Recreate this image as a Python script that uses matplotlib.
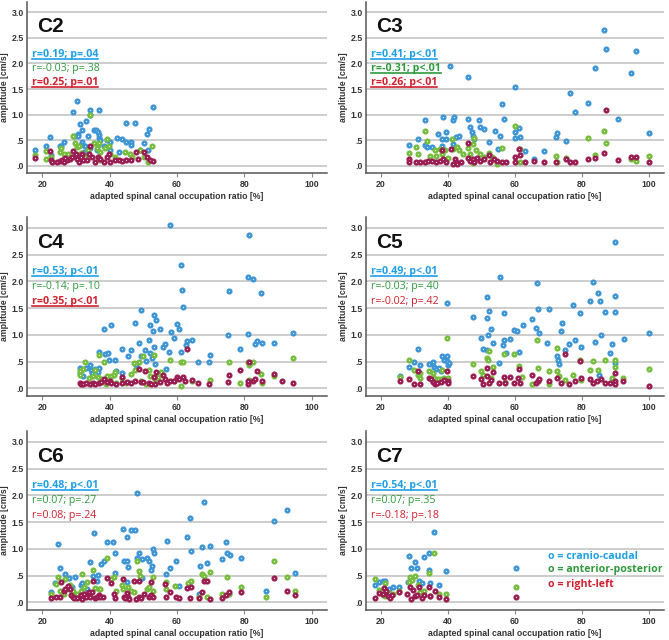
import matplotlib
matplotlib.use("Agg")
import matplotlib.pyplot as plt
from matplotlib.lines import Line2D

# ---------------- data ----------------
panels = ["C2", "C3", "C4", "C5", "C6", "C7"]
x_ticks = [20, 40, 60, 80, 100]
y_ticks = [0.0, 0.5, 1.0, 1.5, 2.0, 2.5, 3.0]
y_tick_labels = [".0", ".5", "1.0", "1.5", "2.0", "2.5", "3.0"]
series_names = ["cranio-caudal", "anterior-posterior", "right-left"]

# C2
c2_cc_x = [18.0, 21.2, 22.2, 22.5, 25.2, 26.4, 25.7, 29.2, 30.2, 29.4, 30.6, 30.6, 31.2, 31.9, 31.9, 33.1, 33.5, 34.3, 34.3, 35.5, 36.1, 36.5, 36.8, 36.9, 37.0, 37.3, 36.5, 36.3, 34.3, 32.8, 31.6, 38.3, 39.1, 40.2, 40.2, 42.2, 42.9, 43.7, 44.9, 44.9, 46.4, 46.5, 47.5, 48.9, 50.3, 51.1, 51.8, 51.4, 52.9, 32.3]
c2_cc_y = [0.31, 0.39, 0.57, 0.21, 0.39, 0.47, 0.39, 1.06, 1.27, 0.58, 0.63, 0.58, 0.81, 0.70, 0.47, 0.88, 0.58, 1.10, 0.99, 0.70, 0.70, 0.66, 1.10, 0.60, 0.55, 0.50, 0.40, 0.31, 0.34, 0.39, 0.40, 0.39, 0.50, 0.47, 0.31, 0.55, 0.27, 0.53, 0.83, 0.47, 0.47, 0.40, 0.84, 0.31, 0.44, 0.62, 0.72, 0.31, 1.14, 0.27]
c2_ap_x = [18.0, 21.2, 21.2, 22.5, 25.2, 25.7, 26.4, 27.7, 29.2, 29.6, 30.2, 30.9, 31.4, 32.8, 34.3, 33.5, 35.5, 36.8, 36.3, 37.1, 38.5, 39.3, 39.8, 40.2, 41.7, 44.7, 46.2, 46.7, 49.1, 50.3, 51.4, 52.6, 37.3, 32.3]
c2_ap_y = [0.21, 0.29, 0.14, 0.18, 0.27, 0.34, 0.24, 0.24, 0.58, 0.44, 0.37, 0.38, 0.25, 0.18, 1.00, 0.31, 0.45, 0.44, 0.34, 0.27, 0.34, 0.52, 0.39, 0.24, 0.18, 0.27, 0.24, 0.18, 0.31, 0.18, 0.08, 0.39, 0.11, 0.11]
c2_rl_x = [18.0, 22.2, 22.5, 23.0, 24.4, 25.2, 25.9, 26.4, 27.4, 28.4, 29.2, 29.9, 30.2, 30.9, 31.9, 32.1, 33.3, 33.8, 34.1, 34.8, 35.8, 36.5, 37.3, 38.3, 39.1, 39.8, 40.2, 41.7, 42.7, 43.7, 44.9, 46.4, 47.7, 48.4, 50.3, 51.2, 51.9, 52.8, 28.9, 31.4, 26.9]
c2_rl_y = [0.16, 0.29, 0.12, 0.08, 0.08, 0.10, 0.11, 0.08, 0.11, 0.14, 0.29, 0.23, 0.14, 0.08, 0.23, 0.11, 0.12, 0.23, 0.38, 0.18, 0.08, 0.18, 0.14, 0.08, 0.18, 0.24, 0.08, 0.11, 0.12, 0.10, 0.12, 0.12, 0.27, 0.14, 0.27, 0.18, 0.12, 0.10, 0.18, 0.18, 0.16]

# C3
c3_cc_x = [28.2, 31.0, 33.0, 33.0, 33.7, 35.3, 37.0, 38.3, 38.5, 38.3, 39.5, 39.5, 40.6, 41.4, 41.9, 41.6, 42.4, 43.4, 45.9, 46.1, 46.6, 47.1, 47.4, 47.8, 49.1, 49.4, 50.6, 52.1, 54.1, 55.6, 56.1, 56.6, 54.8, 60.1, 60.1, 60.1, 61.1, 61.4, 63.1, 68.6, 65.6, 72.1, 72.4, 75.1, 76.4, 77.8, 81.9, 83.9, 86.5, 87.2, 90.7, 94.5, 96.0, 99.9]
c3_cc_y = [0.41, 0.53, 0.89, 0.41, 0.36, 0.36, 0.62, 0.53, 0.95, 0.39, 0.53, 0.67, 1.95, 0.89, 0.96, 0.43, 0.56, 0.59, 1.73, 0.92, 0.76, 0.66, 0.59, 0.53, 0.89, 0.76, 0.72, 0.47, 0.69, 0.58, 1.21, 0.92, 0.33, 1.54, 0.67, 0.54, 0.74, 0.56, 0.28, 0.28, 0.13, 0.57, 0.64, 0.49, 1.42, 1.06, 1.23, 1.92, 2.66, 2.28, 0.92, 1.82, 2.25, 0.64]
c3_ap_x = [28.2, 30.5, 31.0, 33.0, 33.7, 34.5, 36.0, 37.5, 38.3, 39.0, 41.1, 41.6, 42.6, 43.4, 44.4, 45.9, 46.6, 47.6, 47.8, 47.6, 48.4, 49.6, 50.6, 52.1, 53.1, 54.6, 56.1, 60.1, 61.4, 61.4, 72.1, 72.4, 75.1, 81.9, 83.9, 86.5, 87.2, 94.5, 96.0, 99.9, 36.5, 40.0]
c3_ap_y = [0.26, 0.36, 0.23, 0.69, 0.49, 0.20, 0.30, 0.33, 0.23, 0.30, 0.53, 0.33, 0.36, 0.30, 0.23, 0.34, 0.23, 0.43, 0.54, 0.05, 0.30, 0.23, 0.18, 0.26, 0.18, 0.03, 0.34, 0.77, 0.33, 0.08, 0.20, 0.08, 0.16, 0.54, 0.22, 0.69, 0.44, 0.13, 0.09, 0.20, 0.20, 0.16]
c3_rl_x = [28.2, 28.2, 30.5, 31.5, 33.0, 34.0, 35.3, 36.5, 37.5, 38.3, 38.5, 39.5, 40.8, 41.6, 42.1, 42.4, 42.6, 43.8, 45.9, 46.1, 46.6, 47.4, 47.8, 48.6, 49.4, 50.6, 52.1, 52.4, 53.6, 54.6, 56.1, 57.4, 60.1, 60.1, 61.1, 61.4, 63.1, 65.6, 68.6, 72.1, 75.1, 76.4, 77.8, 81.9, 83.9, 86.5, 87.2, 90.7, 94.5, 96.0, 99.9]
c3_rl_y = [0.13, 0.08, 0.07, 0.08, 0.07, 0.09, 0.10, 0.08, 0.10, 0.30, 0.13, 0.08, 0.33, 0.03, 0.13, 0.07, 0.03, 0.08, 0.45, 0.16, 0.10, 0.13, 0.08, 0.16, 0.10, 0.14, 0.21, 0.08, 0.13, 0.10, 0.08, 0.08, 0.18, 0.07, 0.33, 0.21, 0.08, 0.10, 0.08, 0.08, 0.13, 0.08, 0.08, 0.13, 0.16, 0.26, 1.10, 0.12, 0.18, 0.18, 0.08]

# C4
c4_cc_x = [31.1, 31.1, 32.1, 33.1, 34.1, 34.6, 34.8, 35.6, 36.8, 36.8, 36.6, 38.3, 38.7, 39.5, 39.7, 40.3, 41.7, 41.8, 43.7, 43.7, 45.4, 46.4, 47.4, 47.7, 48.6, 49.4, 49.2, 50.4, 50.9, 51.7, 51.9, 52.1, 52.5, 52.8, 53.3, 53.3, 53.5, 53.9, 55.1, 55.8, 56.3, 56.8, 57.5, 57.8, 58.3, 59.1, 60.0, 60.5, 61.2, 61.2, 61.5, 61.7, 62.7, 63.0, 64.4, 66.2, 69.6, 69.9, 75.0, 75.4, 78.8, 81.0, 81.0, 81.4, 82.4, 83.1, 83.7, 85.0, 85.1, 88.8, 94.3]
c4_cc_y = [0.38, 0.29, 0.24, 0.38, 0.44, 0.35, 0.29, 0.36, 0.68, 0.38, 0.31, 1.11, 0.64, 0.66, 0.54, 1.19, 0.54, 0.33, 0.74, 0.29, 0.60, 0.71, 1.22, 0.44, 0.84, 1.47, 0.61, 0.71, 0.52, 0.91, 1.19, 0.66, 0.56, 1.07, 1.38, 0.78, 0.46, 1.27, 1.11, 0.77, 0.83, 0.36, 0.68, 3.05, 1.06, 0.94, 1.21, 1.11, 0.69, 2.31, 1.83, 1.53, 0.81, 0.89, 0.91, 0.50, 0.50, 0.63, 0.99, 1.81, 0.74, 1.01, 2.08, 2.86, 2.05, 0.83, 0.89, 1.78, 0.84, 0.84, 1.03]
c4_ap_x = [31.1, 31.1, 32.1, 32.8, 33.8, 35.1, 35.8, 36.6, 36.8, 37.6, 38.3, 39.0, 39.3, 40.3, 41.3, 41.5, 41.9, 43.7, 44.9, 46.4, 47.2, 47.6, 48.6, 49.4, 49.9, 50.7, 51.7, 52.1, 53.1, 53.5, 54.5, 55.3, 57.8, 59.1, 61.2, 61.7, 61.2, 64.4, 69.9, 75.4, 78.8, 81.0, 81.4, 82.4, 81.4, 85.0, 85.1, 88.8, 94.3]
c4_ap_y = [0.33, 0.25, 0.36, 0.49, 0.19, 0.24, 0.35, 0.21, 0.63, 0.17, 0.49, 0.08, 0.23, 0.23, 0.25, 0.30, 0.11, 0.19, 0.11, 0.27, 0.48, 0.35, 0.49, 0.14, 0.61, 0.08, 0.35, 0.24, 0.63, 0.17, 0.21, 0.30, 0.54, 0.14, 0.49, 0.49, 0.04, 0.14, 0.16, 0.49, 0.11, 0.49, 0.44, 0.49, 0.16, 0.27, 0.10, 0.23, 0.57]
c4_rl_x = [31.1, 31.6, 32.1, 33.1, 34.1, 35.1, 35.8, 36.8, 37.6, 38.3, 39.3, 40.0, 40.5, 41.9, 43.7, 43.7, 45.2, 46.4, 47.4, 48.6, 49.2, 49.9, 50.6, 51.6, 52.3, 53.1, 53.6, 53.9, 55.1, 55.8, 56.3, 57.1, 57.8, 59.1, 60.0, 60.7, 61.7, 62.5, 63.0, 64.4, 66.2, 69.6, 75.0, 75.4, 78.8, 81.0, 81.0, 81.4, 82.4, 83.1, 83.7, 85.1, 88.8, 91.1, 94.3]
c4_rl_y = [0.11, 0.08, 0.08, 0.11, 0.08, 0.11, 0.08, 0.11, 0.12, 0.17, 0.12, 0.14, 0.11, 0.08, 0.21, 0.11, 0.12, 0.10, 0.14, 0.36, 0.12, 0.12, 0.33, 0.11, 0.08, 0.21, 0.08, 0.31, 0.12, 0.25, 0.17, 0.11, 0.14, 0.14, 0.22, 0.17, 0.22, 0.14, 0.74, 0.16, 0.11, 0.09, 0.12, 0.25, 0.35, 0.08, 0.14, 0.50, 0.14, 0.17, 0.33, 0.14, 0.27, 0.14, 0.10]

# C5
c5_cc_x = [25.6, 28.4, 29.9, 30.9, 31.7, 34.2, 35.6, 35.8, 36.3, 37.3, 37.8, 38.3, 38.8, 39.6, 39.8, 39.8, 40.1, 40.3, 47.5, 49.9, 50.5, 51.5, 51.5, 51.7, 51.9, 52.2, 52.7, 53.5, 55.1, 55.6, 56.3, 56.6, 56.6, 57.3, 58.6, 59.6, 60.6, 61.1, 62.3, 65.2, 66.3, 66.5, 66.8, 67.3, 69.5, 70.2, 72.5, 72.7, 73.0, 73.8, 74.1, 75.0, 76.2, 77.2, 77.9, 79.4, 79.7, 82.4, 83.2, 83.9, 84.9, 85.1, 85.5, 85.8, 86.8, 88.5, 89.1, 89.8, 90.0, 90.0, 90.0, 92.5, 100.0]
c5_cc_y = [0.23, 0.40, 0.49, 0.74, 0.44, 0.45, 0.49, 0.40, 0.36, 0.38, 0.33, 0.61, 0.53, 1.59, 0.61, 0.51, 0.44, 0.48, 1.34, 0.95, 0.73, 0.71, 1.70, 1.31, 1.00, 1.44, 1.11, 0.84, 0.47, 2.08, 0.81, 0.90, 1.41, 0.66, 0.92, 1.09, 1.08, 0.68, 1.19, 1.29, 1.13, 1.96, 1.49, 1.03, 0.84, 1.49, 0.61, 0.53, 0.46, 1.08, 1.22, 0.72, 0.83, 1.56, 0.90, 1.41, 0.78, 1.63, 1.99, 0.87, 1.79, 0.26, 1.63, 1.00, 1.43, 0.67, 0.83, 1.43, 1.72, 2.73, 0.47, 0.92, 1.03]
c5_ap_x = [25.6, 28.4, 29.9, 30.9, 31.7, 31.7, 34.2, 35.6, 35.8, 37.0, 37.8, 38.3, 38.8, 39.6, 40.0, 47.5, 49.9, 50.5, 51.5, 51.9, 52.2, 52.7, 53.5, 56.6, 57.1, 59.6, 61.1, 62.1, 65.2, 66.5, 66.8, 70.2, 70.2, 72.5, 72.5, 73.0, 75.0, 77.2, 79.4, 79.7, 82.4, 83.2, 84.9, 86.8, 89.1, 89.8, 90.0, 92.3, 100.0]
c5_ap_y = [0.21, 0.53, 0.34, 0.25, 0.29, 0.19, 0.33, 0.29, 0.20, 0.17, 0.17, 0.34, 0.19, 0.94, 0.19, 0.45, 0.33, 0.26, 0.56, 0.54, 0.70, 0.19, 0.40, 0.64, 0.13, 0.64, 0.42, 0.21, 0.08, 0.90, 0.39, 0.33, 0.09, 0.76, 0.33, 0.23, 0.16, 0.25, 0.54, 0.16, 0.34, 0.51, 0.34, 0.54, 0.20, 0.53, 0.40, 0.20, 0.37]
c5_rl_x = [25.6, 28.4, 29.9, 30.9, 31.7, 34.2, 34.9, 35.6, 36.0, 36.8, 37.8, 38.8, 39.6, 40.0, 40.1, 47.5, 49.9, 50.5, 51.5, 51.7, 52.2, 52.7, 53.5, 55.1, 56.6, 57.1, 58.6, 59.6, 60.9, 61.1, 61.6, 65.2, 66.3, 66.8, 67.3, 70.2, 72.5, 73.8, 75.0, 76.2, 77.9, 79.4, 79.7, 82.4, 83.2, 84.4, 85.8, 86.8, 88.5, 89.8, 90.0, 90.0, 92.3, 100.0]
c5_rl_y = [0.14, 0.17, 0.09, 0.33, 0.09, 0.20, 0.17, 0.13, 0.08, 0.11, 0.13, 0.15, 0.33, 0.14, 0.11, 0.23, 0.17, 0.08, 0.38, 0.23, 0.11, 0.15, 0.31, 0.11, 0.21, 0.11, 0.21, 0.11, 0.20, 0.36, 0.11, 0.25, 0.11, 0.14, 0.17, 0.14, 0.20, 0.11, 0.64, 0.08, 0.14, 0.51, 0.19, 0.17, 0.11, 0.14, 0.17, 0.11, 0.11, 0.29, 0.14, 0.08, 0.14, 0.04]

# C6
c6_cc_x = [22.5, 23.8, 24.6, 25.4, 26.9, 27.9, 28.9, 29.6, 31.4, 31.9, 33.2, 34.2, 35.2, 35.4, 36.2, 36.7, 37.5, 38.2, 39.1, 41.1, 41.6, 41.6, 44.1, 44.4, 45.1, 45.1, 45.3, 45.6, 46.4, 47.4, 48.0, 48.0, 48.6, 49.6, 49.6, 51.1, 51.6, 52.3, 52.6, 52.9, 53.1, 57.0, 56.8, 57.8, 59.8, 60.5, 63.0, 63.8, 64.1, 66.9, 67.4, 68.1, 68.9, 69.7, 73.3, 74.6, 74.8, 75.6, 79.0, 86.4, 88.8, 92.6, 95.1, 66.4]
c6_cc_y = [0.19, 0.36, 1.09, 0.64, 0.53, 0.45, 0.28, 0.48, 0.33, 0.36, 0.25, 0.75, 0.50, 1.30, 0.41, 0.52, 0.72, 0.77, 1.12, 1.13, 0.92, 0.55, 1.38, 0.77, 0.77, 0.39, 1.23, 0.66, 1.36, 1.36, 2.05, 0.83, 0.92, 0.82, 0.45, 0.83, 0.78, 0.60, 0.68, 0.99, 0.93, 1.15, 0.53, 0.64, 0.78, 0.30, 1.22, 1.57, 0.97, 0.68, 1.04, 1.87, 0.73, 1.05, 0.82, 1.13, 0.93, 0.89, 0.83, 0.22, 1.53, 1.73, 0.55, 0.16]
c6_ap_x = [22.5, 24.0, 24.6, 25.4, 26.4, 26.9, 27.9, 28.4, 29.2, 30.4, 31.4, 31.7, 32.3, 33.3, 33.8, 35.1, 35.6, 36.9, 37.3, 39.1, 40.5, 41.4, 42.0, 43.7, 44.0, 45.6, 46.3, 47.3, 48.0, 48.6, 49.1, 51.1, 51.6, 52.9, 52.9, 56.7, 56.8, 59.5, 63.2, 64.2, 66.6, 67.4, 68.1, 68.9, 69.7, 73.3, 74.8, 75.3, 79.0, 86.4, 88.8, 92.6, 95.1]
c6_ap_y = [0.16, 0.35, 0.48, 0.21, 0.16, 0.43, 0.25, 0.33, 0.22, 0.16, 0.22, 0.53, 0.28, 0.38, 0.16, 0.61, 0.27, 0.26, 0.25, 0.83, 0.43, 0.48, 0.22, 0.33, 0.26, 0.28, 0.21, 0.19, 0.78, 0.58, 0.50, 0.25, 0.28, 0.47, 0.22, 0.25, 0.38, 0.31, 0.36, 0.41, 0.11, 0.53, 0.50, 0.11, 0.57, 0.16, 0.47, 0.16, 0.28, 0.11, 0.78, 0.48, 0.22]
c6_rl_x = [22.5, 24.0, 25.7, 25.4, 26.4, 26.9, 27.6, 28.4, 28.6, 29.0, 29.4, 30.4, 31.4, 31.9, 32.3, 33.1, 33.8, 34.3, 34.8, 35.1, 35.6, 36.3, 36.9, 37.3, 38.1, 39.1, 40.5, 41.4, 41.6, 44.1, 44.4, 44.6, 45.1, 45.6, 45.9, 47.3, 47.7, 48.6, 48.8, 49.4, 50.1, 51.6, 52.4, 52.3, 52.9, 56.5, 56.8, 57.8, 59.8, 60.5, 63.0, 63.8, 64.2, 66.6, 67.4, 68.1, 68.9, 69.7, 73.3, 74.6, 75.3, 79.0, 88.8, 92.6, 95.1]
c6_rl_y = [0.09, 0.11, 0.38, 0.11, 0.22, 0.25, 0.31, 0.25, 0.14, 0.11, 0.08, 0.08, 0.14, 0.06, 0.16, 0.11, 0.19, 0.11, 0.19, 0.40, 0.09, 0.11, 0.14, 0.11, 0.11, 0.46, 0.36, 0.16, 0.08, 0.43, 0.11, 0.08, 0.18, 0.11, 0.06, 0.41, 0.06, 0.41, 0.11, 0.08, 0.16, 0.11, 0.38, 0.14, 0.11, 0.35, 0.11, 0.20, 0.11, 0.08, 0.27, 0.08, 0.28, 0.08, 0.19, 0.41, 0.41, 0.06, 0.08, 0.14, 0.19, 0.19, 0.45, 0.21, 0.14]

# C7
c7_cc_x = [18.3, 19.3, 20.6, 21.3, 22.3, 23.6, 25.5, 28.2, 27.9, 29.0, 30.2, 30.7, 31.2, 32.2, 32.7, 34.2, 34.2, 34.7, 35.9, 37.4, 39.4, 60.2]
c7_cc_y = [0.33, 0.38, 0.41, 0.41, 0.25, 0.29, 0.29, 0.86, 0.39, 0.64, 0.76, 0.64, 0.41, 0.36, 0.84, 0.61, 0.93, 0.36, 1.31, 0.33, 0.58, 0.64]
c7_ap_x = [18.3, 19.3, 20.6, 21.1, 21.3, 22.3, 23.6, 25.5, 28.2, 28.5, 29.2, 30.2, 30.9, 31.5, 32.7, 34.2, 34.7, 35.9, 37.4, 39.4, 60.2]
c7_ap_y = [0.43, 0.23, 0.14, 0.36, 0.13, 0.17, 0.16, 0.21, 0.39, 0.48, 0.42, 0.50, 0.33, 0.19, 0.21, 0.55, 0.13, 0.92, 0.16, 0.16, 0.29]
c7_rl_x = [18.3, 19.3, 20.6, 21.0, 21.6, 22.0, 22.6, 23.3, 25.5, 27.7, 28.7, 29.0, 29.5, 30.2, 30.7, 31.2, 32.2, 32.7, 34.2, 34.5, 36.1, 37.4, 39.4, 60.2]
c7_rl_y = [0.09, 0.17, 0.16, 0.27, 0.21, 0.13, 0.09, 0.14, 0.19, 0.16, 0.29, 0.06, 0.23, 0.13, 0.14, 0.28, 0.09, 0.14, 0.29, 0.13, 0.22, 0.11, 0.06, 0.11]

# correlation annotations: (text, significant)
c2_stats = [("r=0.19; p=.04", True), ("r=-0.03; p=.38", False), ("r=0.25; p=.01", True)]
c3_stats = [("r=0.41; p<.01", True), ("r=-0.31; p<.01", True), ("r=0.26; p<.01", True)]
c4_stats = [("r=0.53; p<.01", True), ("r=-0.14; p=.10", False), ("r=0.35; p<.01", True)]
c5_stats = [("r=0.49; p<.01", True), ("r=-0.03; p=.40", False), ("r=-0.02; p=.42", False)]
c6_stats = [("r=0.48; p<.01", True), ("r=0.07; p=.27", False), ("r=0.08; p=.24", False)]
c7_stats = [("r=0.54; p<.01", True), ("r=0.07; p=.35", False), ("r=-0.18; p=.18", False)]

panel_data = {
    "C2": [(c2_cc_x, c2_cc_y), (c2_ap_x, c2_ap_y), (c2_rl_x, c2_rl_y)],
    "C3": [(c3_cc_x, c3_cc_y), (c3_ap_x, c3_ap_y), (c3_rl_x, c3_rl_y)],
    "C4": [(c4_cc_x, c4_cc_y), (c4_ap_x, c4_ap_y), (c4_rl_x, c4_rl_y)],
    "C5": [(c5_cc_x, c5_cc_y), (c5_ap_x, c5_ap_y), (c5_rl_x, c5_rl_y)],
    "C6": [(c6_cc_x, c6_cc_y), (c6_ap_x, c6_ap_y), (c6_rl_x, c6_rl_y)],
    "C7": [(c7_cc_x, c7_cc_y), (c7_ap_x, c7_ap_y), (c7_rl_x, c7_rl_y)],
}
panel_stats = {"C2": c2_stats, "C3": c3_stats, "C4": c4_stats,
               "C5": c5_stats, "C6": c6_stats, "C7": c7_stats}

# ---------------- style ----------------
marker_edge = ["#3d95d6", "#76bd3e", "#9a1c50"]
marker_face = ["#e6f2fb", "#eef7e4", "#f2dde6"]
text_colors = ["#1f9fe6", "#2f9a3c", "#d1202e"]

W, H = 669, 640
fig = plt.figure(figsize=(W / 100, H / 100), dpi=100)

# pixel layout [left, right] / [top, bottom]
col_px = [(27, 327), (366, 664)]
row_px = [(2, 173), (217, 396), (431, 610)]

tick_font = dict(fontsize=6.3, fontweight="bold", color="#333333", family="Liberation Sans")

axes = []
for i, name in enumerate(panels):
    r, c = divmod(i, 2)
    l, rr = col_px[c]
    t, b = row_px[r]
    ax = fig.add_axes([l / W, 1 - b / H, (rr - l) / W, (b - t) / H])
    axes.append(ax)
    ax.set_xlim(15.5, 104.5)
    ax.set_ylim(-0.14, 3.2)
    for y in y_ticks:
        ax.axhline(y, color="#c9c9c9", lw=1.3, zorder=0)
    for k, (xs, ys) in enumerate(panel_data[name]):
        ax.plot(xs, ys, ls="none", marker="o", ms=2.7, mew=1.7,
                mec=marker_edge[k], mfc=marker_face[k], zorder=2 + k)
    ax.set_xticks(x_ticks)
    ax.set_xticklabels([str(v) for v in x_ticks], **tick_font)
    ax.set_yticks(y_ticks)
    ax.set_yticklabels(y_tick_labels, **tick_font)
    ax.tick_params(axis="x", length=3, width=0.8, color="#888888", pad=2)
    ax.tick_params(axis="y", length=0, pad=2)
    for s in ["top", "right"]:
        ax.spines[s].set_visible(False)
    for s in ["left", "bottom"]:
        ax.spines[s].set_color("#555555")
        ax.spines[s].set_linewidth(1.1)
    ax.set_xlabel("adapted spinal canal occupation ratio [%]", fontsize=6.3,
                  fontweight="bold", color="#333333", family="Liberation Sans", labelpad=2)
    ax.set_ylabel("amplitude [cm/s]", fontsize=6.3, fontweight="bold",
                  color="#333333", family="Liberation Sans", labelpad=2)
    ax.text(18.5, 2.73, name, fontsize=15, fontweight="bold", color="#111111",
            family="Liberation Sans", va="center", ha="left")

fig.canvas.draw()
renderer = fig.canvas.get_renderer()
ann_y = [2.18, 1.9, 1.63]
for ax, name in zip(axes, panels):
    for k, (txt, sig) in enumerate(panel_stats[name]):
        t = ax.text(17.0, ann_y[k], txt, fontsize=7.7, color=text_colors[k],
                    fontweight="bold" if sig else "normal", family="Open Sans",
                    va="center", ha="left")
        if sig:
            bb = t.get_window_extent(renderer=renderer)
            yline = bb.y0 + 1.0
            fig.add_artist(Line2D([bb.x0 / W, bb.x1 / W], [yline / H, yline / H],
                                  transform=fig.transFigure, color=text_colors[k], lw=1.2))

# legend text in C7
leg_y = [0.86, 0.61, 0.34]
for k, nm in enumerate(series_names):
    axes[5].text(69.8, leg_y[k], "o = " + nm, fontsize=7.6, fontweight="bold",
                 color=text_colors[k], family="Open Sans", va="center", ha="left")

fig.savefig("out.png", dpi=100)
